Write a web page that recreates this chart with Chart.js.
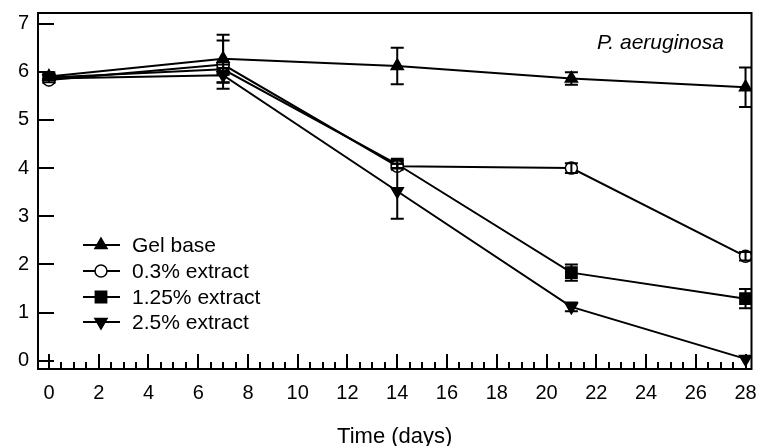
<!DOCTYPE html>
<html>
<head>
<meta charset="utf-8">
<script src="https://cdn.jsdelivr.net/npm/chart.js@4/dist/chart.umd.min.js"></script>
<style>
  html, body { margin: 0; padding: 0; background: #fff; }
  canvas { display: block; }
</style>
</head>
<body>
<canvas id="chart" width="761" height="446"></canvas>
<script>
// data
const days = [0, 7, 14, 21, 28];
const xTickValues = [0, 2, 4, 6, 8, 10, 12, 14, 16, 18, 20, 22, 24, 26, 28];
const yTickValues = [0, 1, 2, 3, 4, 5, 6, 7];

const gelBase = [5.9, 6.27, 6.12, 5.86, 5.68];
const gelBaseErr = [0.05, 0.5, 0.38, 0.13, 0.41];
const extract03 = [5.83, 6.15, 4.04, 4.0, 2.17];
const extract03Err = [0.05, 0.5, 0.05, 0.1, 0.09];
const extract125 = [5.88, 6.05, 4.08, 1.83, 1.29];
const extract125Err = [0.05, 0.1, 0.08, 0.17, 0.2];
const extract25 = [5.86, 5.93, 3.52, 1.12, 0.04];
const extract25Err = [0.04, 0.15, 0.57, 0.09, 0.03];

const seriesLabels = ['Gel base', '0.3% extract', '1.25% extract', '2.5% extract'];
const FONT = '"Liberation Sans", Arial, sans-serif';
const INK = '#000';

function points(values) {
    return values.map((v, i) => ({ x: days[i], y: v }));
}

function makeSet(label, values, errs, style, radius, fill, rotation) {
    return {
        label: label,
        data: points(values),
        errors: errs,
        borderColor: INK,
        borderWidth: 2,
        pointStyle: style,
        pointRadius: radius,
        pointBackgroundColor: fill,
        pointBorderColor: INK,
        pointBorderWidth: 1.5,
        pointRotation: rotation || 0,
        tension: 0,
        fill: false,
    };
}

// error bars, drawn over the markers like the original
const errorBars = {
    id: 'errorBars',
    afterDatasetsDraw(chart) {
        const { ctx, scales } = chart;
        ctx.save();
        ctx.strokeStyle = INK;
        ctx.lineWidth = 2;
        chart.data.datasets.forEach((ds) => {
            ds.data.forEach((p, i) => {
                const e = ds.errors[i];
                const x = scales.x.getPixelForValue(p.x);
                const yTop = scales.y.getPixelForValue(p.y + e);
                const yBot = scales.y.getPixelForValue(p.y - e);
                if (Math.abs(yBot - yTop) < 4) return;
                ctx.beginPath();
                ctx.moveTo(x, yTop); ctx.lineTo(x, yBot);
                ctx.moveTo(x - 6.5, yTop); ctx.lineTo(x + 6.5, yTop);
                ctx.moveTo(x - 6.5, yBot); ctx.lineTo(x + 6.5, yBot);
                ctx.stroke();
            });
        });
        ctx.restore();
    }
};

// frame, inward ticks, legend and organism label
const decorations = {
    id: 'decorations',
    afterDraw(chart) {
        const { ctx, chartArea: a, scales } = chart;
        ctx.save();
        ctx.strokeStyle = INK;
        ctx.lineWidth = 2;
        ctx.strokeRect(a.left, a.top, a.right - a.left, a.bottom - a.top);

        ctx.beginPath();
        for (let d = 0; d <= 28; d += 0.5) {
            const x = Math.round(scales.x.getPixelForValue(d));
            const len = d % 2 === 0 ? 15 : 7;
            ctx.moveTo(x, a.bottom); ctx.lineTo(x, a.bottom - len);
        }
        yTickValues.forEach((v) => {
            const y = Math.round(scales.y.getPixelForValue(v));
            ctx.moveTo(a.left, y); ctx.lineTo(a.left + 16, y);
        });
        ctx.stroke();

        // legend
        const rowY = [245, 271, 297, 322];
        ctx.font = '21px ' + FONT;
        ctx.textBaseline = 'middle';
        ctx.fillStyle = INK;
        chart.data.datasets.forEach((ds, i) => {
            const y = rowY[i];
            ctx.lineWidth = 2;
            ctx.beginPath();
            ctx.moveTo(83, y); ctx.lineTo(120, y);
            ctx.stroke();
            ctx.fillStyle = ds.pointBackgroundColor;
            ctx.lineWidth = 1.5;
            Chart.helpers.drawPoint(ctx, {
                pointStyle: ds.pointStyle,
                rotation: ds.pointRotation,
                radius: ds.pointRadius,
                borderWidth: 1.5
            }, 101, y);
            ctx.fillStyle = INK;
            ctx.fillText(ds.label, 132, y + 1);
        });

        ctx.font = 'italic 21px ' + FONT;
        ctx.textBaseline = 'alphabetic';
        ctx.fillText('P. aeruginosa', 597, 49);
        ctx.restore();
    }
};

new Chart(document.getElementById('chart'), {
    type: 'line',
    data: {
        datasets: [
            makeSet(seriesLabels[0], gelBase, gelBaseErr, 'triangle', 7, INK, 0),
            makeSet(seriesLabels[1], extract03, extract03Err, 'circle', 6, '#fff', 0),
            makeSet(seriesLabels[2], extract125, extract125Err, 'rect', 8, INK, 0),
            makeSet(seriesLabels[3], extract25, extract25Err, 'triangle', 7, INK, 180),
        ]
    },
    options: {
        responsive: false,
        animation: false,
        layout: { padding: { top: 13, right: 6, left: 0, bottom: 0 } },
        plugins: {
            legend: { display: false },
            tooltip: { enabled: false }
        },
        scales: {
            x: {
                type: 'linear',
                min: -0.44,
                max: 28.24,
                afterBuildTicks: (scale) => { scale.ticks = xTickValues.map((v) => ({ value: v })); },
                afterFit: (scale) => {
                    scale.height = 77;
                    scale.paddingLeft = 0;
                    scale.paddingRight = 0;
                },
                grid: { display: false, drawTicks: false },
                border: { display: false },
                ticks: {
                    color: INK,
                    padding: 12,
                    maxRotation: 0,
                    autoSkip: false,
                    font: { family: FONT, size: 20 }
                },
                title: {
                    display: true,
                    text: 'Time (days)',
                    color: INK,
                    padding: 0,
                    font: { family: FONT, size: 22, lineHeight: 0.8 }
                }
            },
            y: {
                min: -0.17,
                max: 7.22,
                afterBuildTicks: (scale) => { scale.ticks = yTickValues.map((v) => ({ value: v })); },
                afterFit: (scale) => {
                    scale.width = 38;
                    scale.paddingTop = 0;
                    scale.paddingBottom = 0;
                },
                grid: { display: false, drawTicks: false },
                border: { display: false },
                ticks: {
                    color: INK,
                    padding: 9,
                    font: { family: FONT, size: 20 }
                }
            }
        }
    },
    plugins: [errorBars, decorations]
});
</script>
</body>
</html>
